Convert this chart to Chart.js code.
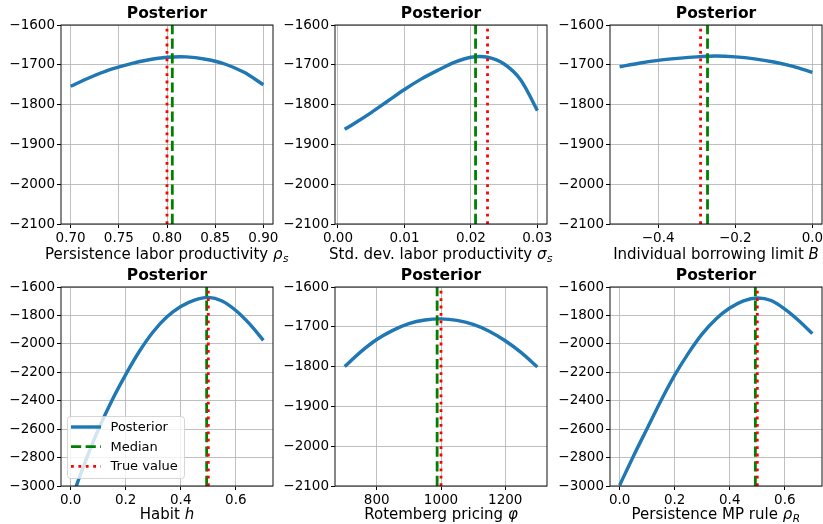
<!DOCTYPE html>
<html><head><meta charset="utf-8">
<script src="https://cdn.jsdelivr.net/npm/chart.js@4"></script>
<style>
html,body{margin:0;padding:0;background:#fff;overflow:hidden;}
#wrap{position:relative;width:823px;height:524px;overflow:hidden;background:#fff;}
#wrap canvas{position:absolute;}
</style></head><body><div id="wrap"></div>
<script>
// ---------------- DATA ----------------
const titleText = 'Posterior';
const seriesLabels = ['Posterior', 'Median', 'True value'];

// Persistence labor productivity rho_s
const rhoS_x    = [0.70, 0.72, 0.74, 0.76, 0.78, 0.80, 0.82, 0.84, 0.86, 0.88, 0.90];
const rhoS_post = [-1754, -1732, -1713, -1699, -1688, -1681, -1680, -1686, -1698, -1719, -1750];
const rhoS_median = 0.8055;
const rhoS_true = 0.80;
const rhoS_xticks = [0.70, 0.75, 0.80, 0.85, 0.90];

// Std. dev. labor productivity sigma_s
const sigS_x    = [0.001, 0.0025, 0.005, 0.0075, 0.01, 0.0125, 0.015, 0.0175, 0.02, 0.0225, 0.025, 0.0275, 0.03];
const sigS_post = [-1862, -1847, -1820, -1791, -1762, -1736, -1714, -1694, -1681, -1681, -1698, -1738, -1815];
const sigS_median = 0.0207;
const sigS_true = 0.0225;
const sigS_xticks = [0.00, 0.01, 0.02, 0.03];

// Individual borrowing limit B
const bor_x    = [-0.50, -0.45, -0.40, -0.35, -0.30, -0.25, -0.20, -0.15, -0.10, -0.05, 0.00];
const bor_post = [-1705, -1696, -1689, -1684, -1680, -1678, -1680, -1685, -1693, -1704, -1719];
const bor_median = -0.272;
const bor_true = -0.29;
const bor_xticks = [-0.4, -0.2, 0.0];

// Habit h
const hab_x    = [0.00, 0.05, 0.10, 0.15, 0.20, 0.25, 0.30, 0.35, 0.40, 0.45, 0.50, 0.55, 0.60, 0.65, 0.70];
const hab_post = [-3110, -2845, -2605, -2398, -2216, -2052, -1915, -1810, -1737, -1692, -1673, -1698, -1765, -1860, -1975];
const hab_median = 0.494;
const hab_true = 0.50;
const hab_xticks = [0.0, 0.2, 0.4, 0.6];

// Rotemberg pricing phi
const rot_x    = [700, 750, 800, 850, 900, 950, 1000, 1050, 1100, 1150, 1200, 1250, 1300];
const rot_post = [-1800, -1763, -1732, -1709, -1692, -1683, -1680, -1684, -1694, -1711, -1735, -1765, -1801];
const rot_median = 988;
const rot_true = 1000;
const rot_xticks = [800, 1000, 1200];

// Persistence MP rule rho_R
const rhoR_x    = [0.00, 0.05, 0.10, 0.15, 0.20, 0.25, 0.30, 0.35, 0.40, 0.45, 0.50, 0.55, 0.60, 0.65, 0.70];
const rhoR_post = [-2995, -2790, -2595, -2400, -2220, -2065, -1930, -1825, -1748, -1697, -1677, -1695, -1755, -1835, -1928];
const rhoR_median = 0.493;
const rhoR_true = 0.50;
const rhoR_xticks = [0.0, 0.2, 0.4, 0.6];

const yticksSmall = [-2100, -2000, -1900, -1800, -1700, -1600];
const yticksLarge = [-3000, -2800, -2600, -2400, -2200, -2000, -1800, -1600];

// axis labels: [plain text, math symbol (italic), subscript (italic)]
const lab_rhoS = ['Persistence labor productivity ', '\u03C1', 's'];
const lab_sigS = ['Std. dev. labor productivity ', '\u03C3', 's'];
const lab_bor  = ['Individual borrowing limit ', 'B', ''];
const lab_hab  = ['Habit ', 'h', ''];
const lab_rot  = ['Rotemberg pricing ', '\u03C6', ''];
const lab_rhoR = ['Persistence MP rule ', '\u03C1', 'R'];

// ---------------- LAYOUT / STYLE ----------------
const FONT = 'DejaVu Sans';
const BLUE = '#1f77b4', GREEN = '#008000', RED = '#ff0000';
const YAXW = 61, TITLEH = 25, PW = 212, PH = 199;

const panels = [
  {x: rhoS_x, y: rhoS_post, med: rhoS_median, tru: rhoS_true, xt: rhoS_xticks, dec: 2, yt: yticksSmall, xmin: 0.69, xmax: 0.91, ymin: -2100, ymax: -1600, lab: lab_rhoS, L: 61, T: 25, B: 39, legend: false},
  {x: sigS_x, y: sigS_post, med: sigS_median, tru: sigS_true, xt: sigS_xticks, dec: 2, yt: yticksSmall, xmin: -0.00045, xmax: 0.03145, ymin: -2100, ymax: -1600, lab: lab_sigS, L: 335, T: 25, B: 39, legend: false},
  {x: bor_x, y: bor_post, med: bor_median, tru: bor_true, xt: bor_xticks, dec: 1, yt: yticksSmall, xmin: -0.525, xmax: 0.025, ymin: -2100, ymax: -1600, lab: lab_bor, L: 610, T: 25, B: 39, legend: false},
  {x: hab_x, y: hab_post, med: hab_median, tru: hab_true, xt: hab_xticks, dec: 1, yt: yticksLarge, xmin: -0.035, xmax: 0.735, ymin: -3000, ymax: -1600, lab: lab_hab, L: 61, T: 287, B: 37, legend: true},
  {x: rot_x, y: rot_post, med: rot_median, tru: rot_true, xt: rot_xticks, dec: 0, yt: yticksSmall, xmin: 670, xmax: 1330, ymin: -2100, ymax: -1600, lab: lab_rot, L: 335, T: 287, B: 37, legend: false},
  {x: rhoR_x, y: rhoR_post, med: rhoR_median, tru: rhoR_true, xt: rhoR_xticks, dec: 1, yt: yticksLarge, xmin: -0.035, xmax: 0.735, ymin: -3000, ymax: -1600, lab: lab_rhoR, L: 610, T: 287, B: 37, legend: false}
];

function fmt(v, dec) {
  let s = Number(v).toFixed(dec);
  if (s.startsWith('-')) s = '\u2212' + s.slice(1);
  if (/^\u22120(\.0+)?$/.test(s)) s = s.slice(1);
  return s;
}

const framePlugin = {
  id: 'frame',
  afterDatasetsDraw(chart) {
    const a = chart.chartArea, ctx = chart.ctx;
    ctx.save();
    ctx.strokeStyle = '#111';
    ctx.lineWidth = 1;
    ctx.strokeRect(a.left, a.top, a.right - a.left, a.bottom - a.top);
    ctx.restore();
  }
};

const boxLegendPlugin = {
  id: 'boxLegend',
  afterDatasetsDraw(chart, args, opts) {
    if (!opts.show) return;
    const a = chart.chartArea, ctx = chart.ctx;
    const w = 117, h = 62;
    const x0 = a.left + 6.5, y0 = a.bottom - 7.5 - h;
    ctx.save();
    ctx.beginPath();
    const r = 3;
    ctx.moveTo(x0 + r, y0);
    ctx.arcTo(x0 + w, y0, x0 + w, y0 + h, r);
    ctx.arcTo(x0 + w, y0 + h, x0, y0 + h, r);
    ctx.arcTo(x0, y0 + h, x0, y0, r);
    ctx.arcTo(x0, y0, x0 + w, y0, r);
    ctx.closePath();
    ctx.fillStyle = 'rgba(255,255,255,0.8)';
    ctx.fill();
    ctx.strokeStyle = 'rgba(204,204,204,0.8)';
    ctx.lineWidth = 1;
    ctx.stroke();
    chart.data.datasets.forEach((ds, i) => {
      const yy = y0 + 10.5 + i * 19.7;
      ctx.beginPath();
      ctx.strokeStyle = ds.borderColor;
      ctx.lineWidth = ds.borderWidth;
      ctx.setLineDash(ds.borderDash || []);
      ctx.lineCap = 'butt';
      ctx.moveTo(x0 + 3.5, yy);
      ctx.lineTo(x0 + 33.5, yy);
      ctx.stroke();
      ctx.setLineDash([]);
      ctx.fillStyle = '#000';
      ctx.font = '13px "' + FONT + '"';
      ctx.textBaseline = 'middle';
      ctx.textAlign = 'left';
      ctx.fillText(ds.label, x0 + 43, yy + 0.5);
    });
    ctx.restore();
  }
};

const richLabelPlugin = {
  id: 'richLabel',
  afterDraw(chart, args, opts) {
    const parts = opts.parts; if (!parts) return;
    const ctx = chart.ctx, a = chart.chartArea;
    const fs = 15;
    const fPlain = fs + 'px "' + FONT + '"';
    const fSym = 'italic ' + fs + 'px "' + FONT + '"';
    const fSub = 'italic ' + (fs * 0.7) + 'px "' + FONT + '"';
    ctx.save();
    ctx.fillStyle = '#000';
    ctx.textBaseline = 'alphabetic';
    ctx.textAlign = 'left';
    ctx.font = fPlain; const w1 = ctx.measureText(parts[0]).width;
    ctx.font = fSym; const w2 = ctx.measureText(parts[1]).width;
    ctx.font = fSub; const w3 = parts[2] ? ctx.measureText(parts[2]).width + 1 : 0;
    const total = w1 + w2 + w3;
    let x = (a.left + a.right) / 2 - total / 2;
    const base = a.bottom + opts.offset;
    ctx.font = fPlain; ctx.fillText(parts[0], x, base); x += w1;
    ctx.font = fSym; ctx.fillText(parts[1], x, base); x += w2;
    if (parts[2]) { ctx.font = fSub; ctx.fillText(parts[2], x + 0.5, base + 3.3); }
    ctx.restore();
  }
};

Chart.defaults.font.family = FONT;
Chart.defaults.color = '#000';

const wrap = document.getElementById('wrap');
panels.forEach((p) => {
  const cv = document.createElement('canvas');
  const cw = YAXW + PW + YAXW, ch = TITLEH + PH + p.B;
  cv.width = cw; cv.height = ch;
  cv.style.width = cw + 'px'; cv.style.height = ch + 'px';
  cv.style.left = (p.L - YAXW) + 'px';
  cv.style.top = (p.T - TITLEH) + 'px';
  wrap.appendChild(cv);

  const postData = p.x.map((xv, i) => ({x: xv, y: p.y[i]}));
  const medData = [{x: p.med, y: p.ymin}, {x: p.med, y: p.ymax}];
  const truData = [{x: p.tru, y: p.ymin}, {x: p.tru, y: p.ymax}];

  new Chart(cv, {
    type: 'scatter',
    data: {
      datasets: [
        {label: seriesLabels[0], data: postData, showLine: true, borderColor: BLUE, backgroundColor: BLUE, borderWidth: 3.4, pointRadius: 0, tension: 0.3, clip: 0, order: 3, borderCapStyle: 'butt'},
        {label: seriesLabels[1], data: medData, showLine: true, borderColor: GREEN, backgroundColor: GREEN, borderWidth: 2.8, borderDash: [10.2, 4.4], pointRadius: 0, clip: 0, order: 2},
        {label: seriesLabels[2], data: truData, showLine: true, borderColor: RED, backgroundColor: RED, borderWidth: 2.8, borderDash: [2.8, 4.6], pointRadius: 0, clip: 0, order: 1}
      ]
    },
    options: {
      responsive: false,
      animation: false,
      devicePixelRatio: 1,
      layout: {padding: {left: 0, right: YAXW, top: 0, bottom: 0}},
      events: [],
      scales: {
        x: {
          type: 'linear', position: 'bottom', min: p.xmin, max: p.xmax,
          afterBuildTicks: (s) => { s.ticks = p.xt.map(v => ({value: v})); },
          afterFit: (s) => { s.height = p.B; },
          ticks: {callback: (v) => fmt(v, p.dec), font: {size: 13.5}, color: '#000', padding: 2, maxRotation: 0, autoSkip: false},
          grid: {color: '#b0b0b0', lineWidth: 0.8, tickColor: '#000', tickLength: 4, tickWidth: 1},
          border: {display: false},
          title: {display: false}
        },
        y: {
          type: 'linear', position: 'left', min: p.ymin, max: p.ymax,
          afterBuildTicks: (s) => { s.ticks = p.yt.map(v => ({value: v})); },
          afterFit: (s) => { s.width = YAXW; },
          ticks: {callback: (v) => fmt(v, 0), font: {size: 13.5}, color: '#000', padding: 2, autoSkip: false},
          grid: {color: '#b0b0b0', lineWidth: 0.8, tickColor: '#000', tickLength: 4, tickWidth: 1},
          border: {display: false}
        }
      },
      plugins: {
        legend: {display: false},
        tooltip: {enabled: false},
        title: {display: true, fullSize: false, text: titleText, color: '#000', font: {size: 15.5, weight: 'bold', lineHeight: 1.2}, padding: {top: 4.8, bottom: 1.6}},
        boxLegend: {show: p.legend},
        richLabel: {parts: p.lab, offset: p.B === 39 ? 35 : 32.5}
      }
    },
    plugins: [framePlugin, boxLegendPlugin, richLabelPlugin]
  });
});
</script>
</body></html>
